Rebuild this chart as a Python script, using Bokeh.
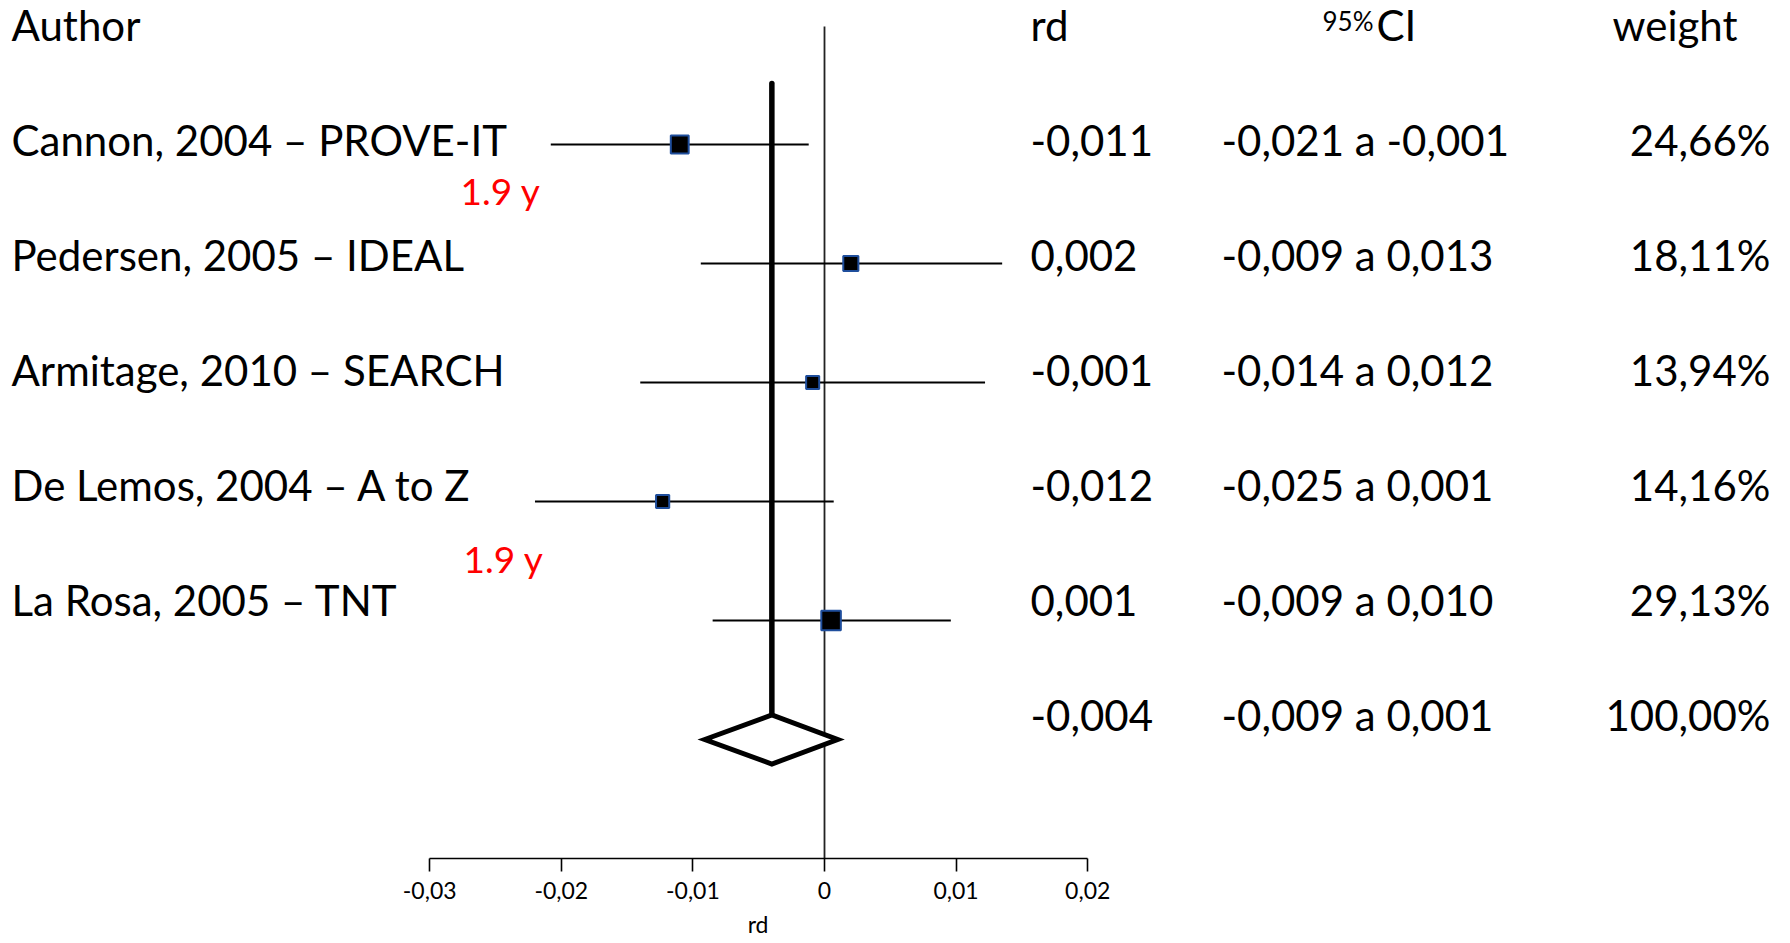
import numpy as np
from bokeh.plotting import figure
from bokeh.models import Range1d, FixedTicker, CustomJSTickFormatter, ColumnDataSource, Title
from bokeh.core.properties import value
from bokeh.embed import file_html
from bokeh.resources import INLINE

# ---------------- data ----------------
authors = ["Cannon, 2004 – PROVE-IT", "Pedersen, 2005 – IDEAL", "Armitage, 2010 – SEARCH",
           "De Lemos, 2004 – A to Z", "La Rosa, 2005 – TNT"]
rd = [-0.011, 0.002, -0.0009, -0.0123, 0.0005]
ci_low = [-0.0208, -0.0094, -0.0140, -0.0220, -0.0085]
ci_high = [-0.0012, 0.0135, 0.0122, 0.0007, 0.0096]
weights = [24.66, 18.11, 13.94, 14.16, 29.13]
pooled_rd = -0.004
pooled_low = -0.0091
pooled_high = 0.0010

rd_labels = ["-0,011", "0,002", "-0,001", "-0,012", "0,001", "-0,004"]
ci_labels = ["-0,021 a -0,001", "-0,009 a 0,013", "-0,014 a 0,012", "-0,025 a 0,001",
             "-0,009 a 0,010", "-0,009 a 0,001"]
weight_labels = ["24,66%", "18,11%", "13,94%", "14,16%", "29,13%", "100,00%"]
followup_labels = ["1.9 y", "1.9 y"]
x_ticks = [-0.03, -0.02, -0.01, 0.0, 0.01, 0.02]

# ---------------- layout helpers (pixel -> data) ----------------
W, H, FH = 1790, 943, 858
X0PX, PX_PER_UNIT = 824.0, 13160.0
ROW0PX, ROWPX = 144.0, 119.0

def xd(px):
    return (px - X0PX) / PX_PER_UNIT

def yd(py):
    return (py - ROW0PX) / ROWPX

FONT = value("Lato")
n = len(authors)
rows = list(range(n))
pooled_row = n

p = figure(width=W, height=H, output_backend="svg", toolbar_location=None,
           x_range=Range1d(xd(0), xd(W)), y_range=Range1d(yd(FH), yd(0)),
           min_border_left=0, min_border_right=0, min_border_top=0, min_border_bottom=H - FH,
           y_axis_location=None, x_axis_location="below")
p.outline_line_color = None
p.xgrid.visible = False
p.ygrid.visible = False
p.background_fill_color = "white"
p.border_fill_color = "white"

# x axis
ax = p.xaxis[0]
ax.bounds = (x_ticks[0], x_ticks[-1])
ax.ticker = FixedTicker(ticks=x_ticks)
ax.formatter = CustomJSTickFormatter(code="return Math.abs(tick) < 1e-9 ? '0' : tick.toFixed(2).replace('.', ',');")
ax.axis_line_color = "black"
ax.axis_line_width = 1.6
ax.major_tick_line_color = "black"
ax.major_tick_line_width = 1.6
ax.major_tick_out = 13
ax.major_tick_in = 0
ax.minor_tick_line_color = None
ax.major_label_standoff = 10
ax.major_label_text_font = "Lato"
ax.major_label_text_font_size = "23px"
ax.major_label_text_color = "black"

# axis title, centred under the axis span
axis_mid_px = X0PX + (x_ticks[0] + x_ticks[-1]) / 2 * PX_PER_UNIT
p.add_layout(Title(text="rd", align="left", offset=axis_mid_px - 11, standoff=12,
                   text_font="Lato", text_font_size="23px", text_font_style="normal",
                   text_color="black"), "below")

# zero line
p.segment(x0=[0.0], y0=[yd(26)], x1=[0.0], y1=[yd(FH)], line_color="#222222", line_width=1.8)

# pooled estimate vertical line
diamond_half = 24.5 / ROWPX
p.segment(x0=[pooled_rd], y0=[yd(83)], x1=[pooled_rd], y1=[pooled_row - diamond_half],
          line_color="black", line_width=5.5, line_cap="round")

# CI lines
src = ColumnDataSource(dict(rd=rd, lo=ci_low, hi=ci_high, row=rows,
                            size=[3.9 * np.sqrt(w) - 1.5 for w in weights]))
p.segment(x0="lo", y0="row", x1="hi", y1="row", source=src, line_color="black", line_width=2)
p.scatter(x="rd", y="row", size="size", marker="square", source=src,
          fill_color="black", line_color="#1f4e9c", line_width=2)

# diamond
p.patch(x=[pooled_low, pooled_rd, pooled_high, pooled_rd],
        y=[pooled_row, pooled_row - diamond_half, pooled_row, pooled_row + diamond_half],
        fill_color="white", line_color="black", line_width=5, line_join="miter")

# ---------------- table text ----------------
text_rows = [yd(139.5 + 115 * j) for j in range(n + 1)]
header_y = yd(24)
big = "42px"

p.text(x=[xd(11)], y=[header_y], text=["Author"], text_font=FONT, text_font_size=big,
       text_baseline="middle", text_align="left", text_color="black")
p.text(x=[xd(1030)], y=[header_y], text=["rd"], text_font=FONT, text_font_size=big,
       text_baseline="middle", text_align="left", text_color="black")
p.text(x=[xd(1322)], y=[yd(20)], text=["95%"], text_font=FONT, text_font_size="26px",
       text_baseline="middle", text_align="left", text_color="black")
p.text(x=[xd(1376)], y=[header_y], text=["CI"], text_font=FONT, text_font_size=big,
       text_baseline="middle", text_align="left", text_color="black")
p.text(x=[xd(1737)], y=[header_y], text=["weight"], text_font=FONT, text_font_size=big,
       text_baseline="middle", text_align="right", text_color="black")

p.text(x=[xd(11)] * n, y=text_rows[:n], text=authors, text_font=FONT, text_font_size=big,
       text_baseline="middle", text_align="left", text_color="black")
p.text(x=[xd(1030)] * (n + 1), y=text_rows, text=rd_labels, text_font=FONT, text_font_size=big,
       text_baseline="middle", text_align="left", text_color="black")
p.text(x=[xd(1221)] * (n + 1), y=text_rows, text=ci_labels, text_font=FONT, text_font_size=big,
       text_baseline="middle", text_align="left", text_color="black")
p.text(x=[xd(1770)] * (n + 1), y=text_rows, text=weight_labels, text_font=FONT, text_font_size=big,
       text_baseline="middle", text_align="right", text_color="black")

# red follow-up annotations
p.text(x=[xd(460), xd(463)], y=[yd(190), yd(558)], text=followup_labels, text_font=FONT,
       text_font_size="37px", text_baseline="middle", text_align="left", text_color="#ff0000")

open("out.html", "w").write(file_html(p, INLINE))
